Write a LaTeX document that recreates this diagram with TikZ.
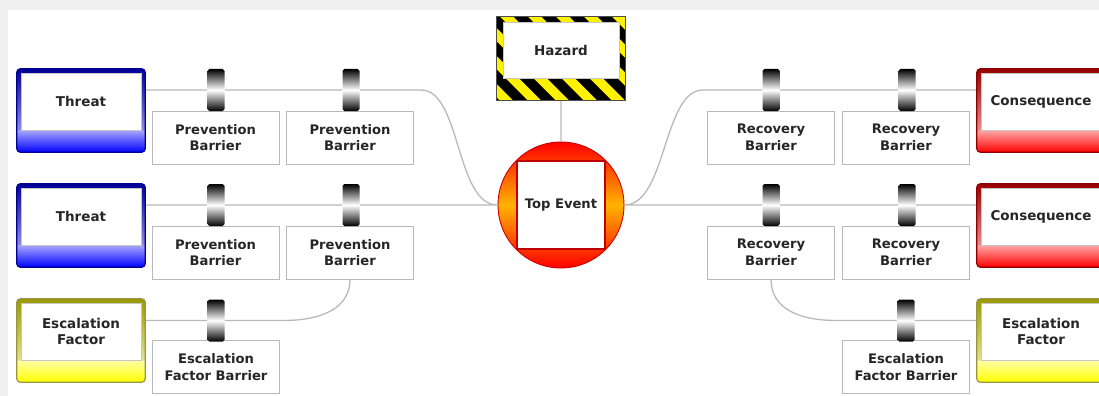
\documentclass[tikz,border=0pt]{standalone}
\usepackage{fontspec}
\setmainfont{DejaVu Sans}
\usetikzlibrary{backgrounds}

\begin{document}
\begin{tikzpicture}[x=0.03cm,y=-0.03cm]
	\tikzset{
		panel/.style={draw=gray!45,fill=white,minimum width=3.6cm,minimum height=1.71cm,inner sep=1pt,align=center,text=black!85,font=\fontsize{11.5}{13.8}\selectfont\bfseries},
		barrier/.style={draw=gray!55,fill=white,line width=0.8pt,minimum width=3.81cm,minimum height=1.59cm,inner sep=1pt,align=center,text=black!85,font=\fontsize{11.2}{14}\selectfont\bfseries},
		clamp/.style={rounded corners=1.5pt,minimum width=0.51cm,minimum height=1.26cm,inner sep=0pt,top color=black,bottom color=black,middle color=white},
		hub/.style={circle,draw=red!80!black,line width=0.8pt,minimum size=3.78cm,inner sep=0pt,top color=red,bottom color=red,middle color=orange!60!yellow,text=black!85,font=\fontsize{11.2}{13.8}\selectfont\bfseries,
			path picture={\draw[red!75!black,line width=1.2pt,fill=white] ([shift={(-44,-44)}]path picture bounding box.center) rectangle ([shift={(44,44)}]path picture bounding box.center);}},
		link/.style={draw=gray!55,line width=1.1pt}
	}
	\useasboundingbox (0,0) rectangle (1099,396);

	\node[panel] (thr1) at (81,101.5) {Threat};
	\node[panel] (thr2) at (81,216.5) {Threat};
	\node[panel] (esc1) at (81,331.5) {Escalation\\Factor};
	\node[panel] (con1) at (1041,101.5) {Consequence};
	\node[panel] (con2) at (1041,216.5) {Consequence};
	\node[panel] (esc2) at (1041,331.5) {Escalation\\Factor};
	\node[panel,minimum width=3.48cm,minimum height=1.68cm] (haz) at (561,50) {Hazard};
	\node[hub] (top) at (561,205) {Top Event};

	\node[barrier] (pb1) at (215.5,137.5) {Prevention\\Barrier};
	\node[barrier] (pb2) at (350,137.5) {Prevention\\Barrier};
	\node[barrier] (pb3) at (215.5,252.5) {Prevention\\Barrier};
	\node[barrier] (pb4) at (350,252.5) {Prevention\\Barrier};
	\node[barrier] (eb1) at (216,367) {Escalation\\Factor Barrier};
	\node[barrier] (rb1) at (771,137.5) {Recovery\\Barrier};
	\node[barrier] (rb2) at (906,137.5) {Recovery\\Barrier};
	\node[barrier] (rb3) at (771,252.5) {Recovery\\Barrier};
	\node[barrier] (rb4) at (906,252.5) {Recovery\\Barrier};
	\node[barrier] (eb2) at (906,367) {Escalation\\Factor Barrier};

	\node[clamp] (ca1) at (216,90) {};
	\node[clamp] (ca2) at (351,90) {};
	\node[clamp] (cb1) at (216,205) {};
	\node[clamp] (cb2) at (351,205) {};
	\node[clamp] (ce1) at (216,320.5) {};
	\node[clamp] (cc1) at (771,90) {};
	\node[clamp] (cc2) at (907,90) {};
	\node[clamp] (cd1) at (771,205) {};
	\node[clamp] (cd2) at (907,205) {};
	\node[clamp] (cf) at (906,320.5) {};

	\begin{scope}[on background layer]
		\fill[gray!12] (0,0) rectangle (1099,396);
		\fill[white] (8,10) rectangle (1099,396);

		\path[link]
			(thr1.east |- ca1) -- (ca1) -- (ca2) -- ++(70,0) .. controls +(40,0) and +(-42,0) .. (top.west)
			(thr2.east |- cb1) -- (cb1) -- (cb2) -- (top)
			(esc1.east |- ce1) -- (ce1) -- ++(67,0) .. controls +(40,0) and +(0,28) .. (pb4.south)
			(con1.west |- cc2) -- (cc2) -- (cc1) -- ++(-68,0) .. controls +(-40,0) and +(42,0) .. (top.east)
			(con2.west |- cd2) -- (cd2) -- (cd1) -- (top)
			(esc2.west |- cf) -- (cf) -- ++(-69,0) .. controls +(-40,0) and +(0,28) .. (rb3.south)
			(haz) -- (top);

		\foreach \n/\c in {thr1/blue,thr2/blue,con1/red,con2/red,esc1/yellow,esc2/yellow}{
			\shade[rounded corners=3pt,top color=\c!60!black,bottom color=\c!25] ([shift={(-4,-4)}]\n.north west) rectangle ([shift={(4,22)}]\n.south east);
			\shade[rounded corners=3pt,top color=\c!35,bottom color=\c] ([shift={(-4,0)}]\n.south west) rectangle ([shift={(4,22)}]\n.south east);
			\draw[rounded corners=3pt,\c!55!black,line width=1pt] ([shift={(-4,-4)}]\n.north west) rectangle ([shift={(4,22)}]\n.south east);
		}

		\begin{scope}
			\clip ([shift={(-6,-5)}]haz.north west) rectangle ([shift={(6,22)}]haz.south east);
			\fill[yellow] (450,0) rectangle (680,120);
			\foreach \x in {392,420,...,644} \draw[line width=8.5pt] (\x,0) -- ++(120,120);
		\end{scope}
		\draw[black!70,line width=0.8pt] ([shift={(-6,-5)}]haz.north west) rectangle ([shift={(6,22)}]haz.south east);
	\end{scope}
\end{tikzpicture}
\end{document}
